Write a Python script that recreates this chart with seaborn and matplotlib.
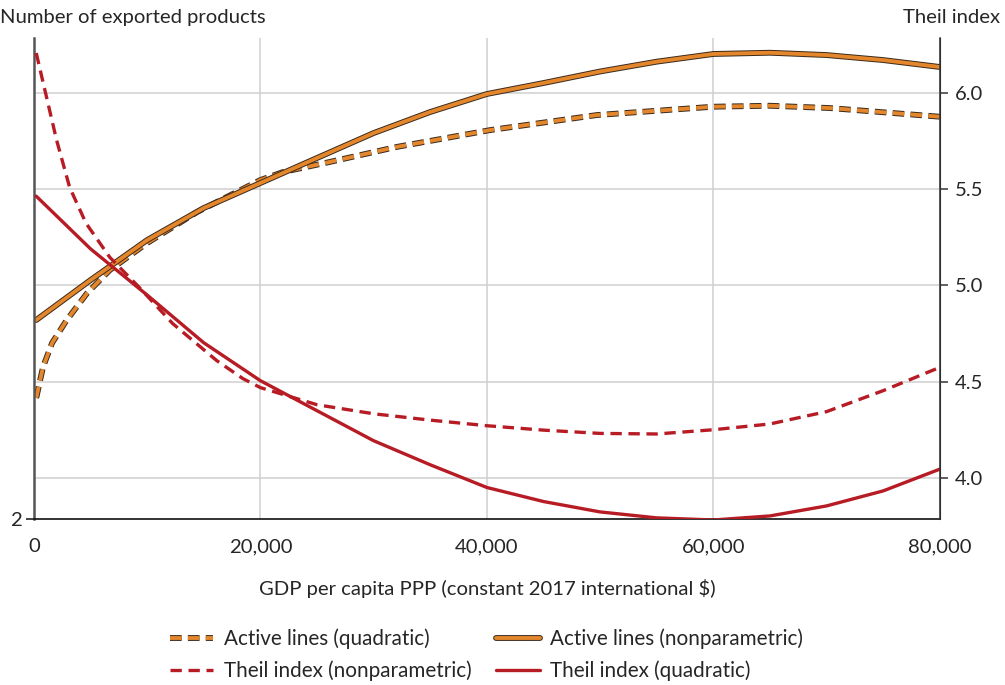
import numpy as np
import pandas as pd
import matplotlib
matplotlib.use("Agg")
import matplotlib.pyplot as plt
import matplotlib.patheffects as pe
import seaborn as sns

sns.set_style("white")
plt.rcParams["font.family"] = ["Lato", "DejaVu Sans"]

# ------------------------------------------
# DATA
# ------------------------------------------

# Active lines, nonparametric (left axis, number of exported products)
gdp_act_np = [200, 5000, 10000, 15000, 20000, 25000, 30000, 35000, 40000,
              45000, 50000, 55000, 60000, 65000, 70000, 75000, 80000]
act_np = [4.069, 4.484, 4.900, 5.233, 5.493, 5.753, 6.012, 6.231, 6.418,
          6.532, 6.652, 6.754, 6.834, 6.847, 6.823, 6.771, 6.699]

# Active lines, quadratic (left axis)
gdp_act_q = [200, 800, 1600, 2900, 4700, 6700, 10000, 14400, 20000, 22000,
             26100, 32000, 40300, 49700, 60000, 65000, 70300, 80000]
act_q = [3.258, 3.580, 3.830, 4.069, 4.349, 4.588, 4.869, 5.191, 5.524, 5.607,
         5.711, 5.867, 6.043, 6.199, 6.286, 6.296, 6.272, 6.182]

# Theil index, nonparametric (right axis)
gdp_theil_np = [200, 1100, 2000, 3150, 4600, 6700, 9300, 12250, 16150, 18450,
                20000, 25000, 30000, 35000, 40000, 45000, 50000, 55000,
                60000, 65000, 70000, 75000, 80000]
theil_np = [6.208, 5.981, 5.755, 5.510, 5.323, 5.146, 4.990, 4.802, 4.609, 4.516,
            4.469, 4.380, 4.333, 4.300, 4.271, 4.248, 4.231, 4.228,
            4.250, 4.280, 4.344, 4.453, 4.574]

# Theil index, quadratic (right axis)
gdp_theil_q = [200, 5000, 10000, 15000, 20000, 25000, 30000, 35000, 40000,
               45000, 50000, 55000, 60000, 65000, 70000, 75000, 80000]
theil_q = [5.464, 5.190, 4.950, 4.702, 4.505, 4.349, 4.193, 4.068, 3.950,
           3.877, 3.823, 3.792, 3.781, 3.802, 3.854, 3.932, 4.045]

x_ticks = [0, 20000, 40000, 60000, 80000]
theil_ticks = [4.0, 4.5, 5.0, 5.5, 6.0]

# ------------------------------------------
# STYLE
# ------------------------------------------
ORANGE = "#E3862C"
RED = "#B71C25"
EDGE = "#3a2a1c"
GRID = "#cfcfcf"
FS = 14.6

L_LO, L_HI = 2, 7
R_LO, R_HI = 3.786, 6.286

outline = [pe.Stroke(linewidth=4.2, foreground=EDGE), pe.Normal()]

fig = plt.figure(figsize=(10.05, 6.85), dpi=100)
ax = fig.add_axes([0.0338, 0.2423, 0.9012, 0.7022])
ax2 = ax.twinx()

# ------------------------------------------
# LINES
# ------------------------------------------
sns.lineplot(x=gdp_act_q, y=act_q, ax=ax, color=ORANGE, lw=2.8,
             label="Active lines (quadratic)", legend=False,
             path_effects=outline)
ax.lines[-1].set_dashes([3.0, 1.6])
sns.lineplot(x=gdp_act_np, y=act_np, ax=ax, color=ORANGE, lw=2.8,
             label="Active lines (nonparametric)", legend=False,
             path_effects=outline)

sns.lineplot(x=gdp_theil_np, y=theil_np, ax=ax2, color=RED, lw=2.4,
             label="Theil index (nonparametric)", legend=False)
ax2.lines[-1].set_dashes([3.4, 2.0])
sns.lineplot(x=gdp_theil_q, y=theil_q, ax=ax2, color=RED, lw=2.4,
             label="Theil index (quadratic)", legend=False)

# ------------------------------------------
# AXES
# ------------------------------------------
ax.set_xlim(0, 80000)
ax.set_ylim(L_LO, L_HI)
ax2.set_ylim(R_LO, R_HI)

ax.set_xticks(x_ticks)
ax.set_xticklabels([f"{v:,}" for v in x_ticks])
ax.set_yticks([2])
ax.set_yticklabels(["2"])

# horizontal grid lines at the Theil ticks, drawn on the left axis
grid_pos = [L_LO + (t - R_LO) / (R_HI - R_LO) * (L_HI - L_LO) for t in theil_ticks]
ax.set_yticks(grid_pos, minor=True)
ax.grid(True, which="minor", axis="y", color=GRID, lw=1.1)
ax.grid(True, which="major", axis="x", color=GRID, lw=1.1)
ax.tick_params(axis="y", which="minor", length=0)

ax2.set_yticks(theil_ticks)
ax2.set_yticklabels([f"{t:.1f}" for t in theil_ticks])

for a in (ax, ax2):
    a.spines["top"].set_visible(False)
ax.spines["left"].set_color("#555555")
ax.spines["left"].set_linewidth(1.8)
ax.spines["bottom"].set_color("#111111")
ax.spines["bottom"].set_linewidth(1.2)
ax2.spines["right"].set_color("#333333")
ax2.spines["right"].set_linewidth(1.1)
ax2.spines["left"].set_visible(False)
ax2.spines["bottom"].set_visible(False)

ax.tick_params(axis="x", which="major", length=6, width=1.1, color="#111111",
               labelsize=FS, pad=8)
ax.tick_params(axis="y", which="major", length=6, width=1.1, color="#111111",
               labelsize=FS, pad=3)
ax2.tick_params(axis="y", length=6, width=1.1, color="#333333",
                labelsize=FS, pad=5)

ax.set_xlabel("GDP per capita PPP (constant 2017 international $)",
              fontsize=FS, labelpad=17)
ax.set_ylabel("")
ax2.set_ylabel("")

fig.text(0.0, 0.975, "Number of exported products", fontsize=FS,
         ha="left", va="center")
fig.text(0.995, 0.975, "Theil index", fontsize=FS, ha="right", va="center")

# ------------------------------------------
# LEGEND
# ------------------------------------------
h_oq, h_onp = ax.lines[0], ax.lines[1]
h_rnp, h_rq = ax2.lines[0], ax2.lines[1]
fig.legend([h_oq, h_rnp, h_onp, h_rq],
           [h.get_label() for h in (h_oq, h_rnp, h_onp, h_rq)],
           loc="upper center", bbox_to_anchor=(0.484, 0.095), ncol=2,
           frameon=False, fontsize=14.9, handlelength=2.1, handletextpad=0.5,
           columnspacing=1.2, labelspacing=0.55, borderaxespad=0)

fig.savefig("out.png", dpi=100)
